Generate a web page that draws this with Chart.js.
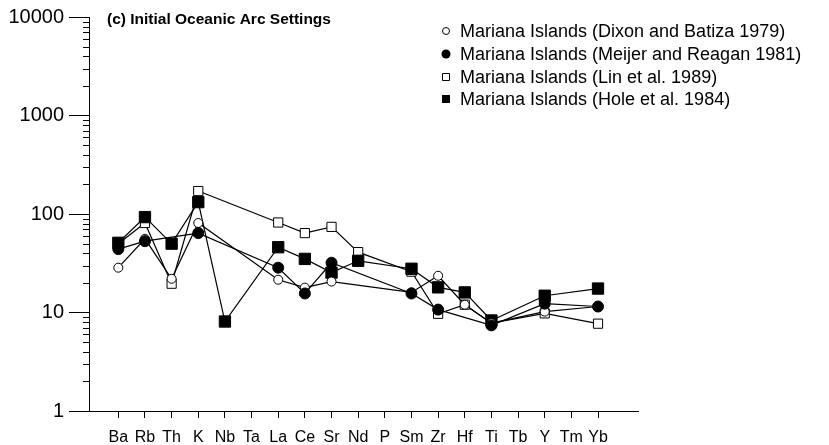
<!DOCTYPE html>
<html>
<head>
<script src="https://cdn.jsdelivr.net/npm/chart.js"></script>
<style>
  body { margin: 0; background: #fff; }
  #wrap { width: 829px; height: 445px; }
</style>
</head>
<body>
<div id="wrap"><canvas id="myChart" width="829" height="445"></canvas></div>
<script>
    // element order on the x axis
    const elements = ['Ba','Rb','Th','K','Nb','Ta','La','Ce','Sr','Nd','P','Sm','Zr','Hf','Ti','Tb','Y','Tm','Yb'];
    const yTicks = [1, 10, 100, 1000, 10000];

    // values (null = not reported)
    const dixon  = [28.5, 56, 22, 81, null, null, 21.5, 17.9, 20.6, null, null, 16, 23.6, 12, 7.8, null, 10.2, null, 11.5];
    const meijer = [44, 53, null, 64, null, null, 28.5, 15.6, 32, null, null, 15.6, 10.7, null, 7.4, null, 12.3, null, 11.5];
    const lin    = [50, 81, 19.6, 171, null, null, 82, 64, 74, 41, null, 26, 9.7, 12, 7.8, null, 9.8, null, 7.7];
    const hole   = [51, 93, 50, 132, 8.1, null, 46, 35, 25.4, 33.5, null, 27.8, 18, 16, 8.3, null, 14.8, null, 17.5];

    const seriesNames = [
        'Mariana Islands (Dixon and Batiza 1979)',
        'Mariana Islands (Meijer and Reagan 1981)',
        'Mariana Islands (Lin et al. 1989)',
        'Mariana Islands (Hole et al. 1984)'
    ];

    const toPts = arr => arr.map((v, i) => ({x: i, y: v}));
    const FONT = "'Liberation Sans', Arial, Helvetica, sans-serif";

    Chart.defaults.font.family = FONT;
    Chart.defaults.color = '#000';

    // minor log ticks, title and the legend drawn inside the plot
    const extras = {
        id: 'extras',
        afterDraw(chart) {
            const c = chart.ctx;
            const ys = chart.scales.y;
            c.save();
            c.strokeStyle = '#000';
            c.lineWidth = 1;
            for (let d = 1; d < 10000; d *= 10) {
                for (let m = 2; m <= 9; m++) {
                    const py = Math.round(ys.getPixelForValue(d * m)) + 0.5;
                    c.beginPath();
                    c.moveTo(ys.right - 6, py);
                    c.lineTo(ys.right, py);
                    c.stroke();
                }
            }
            // title
            c.fillStyle = '#000';
            c.font = 'bold 15.5px ' + FONT;
            c.textBaseline = 'middle';
            c.fillText('(c) Initial Oceanic Arc Settings', 107, 20);

            // legend
            c.font = '18px ' + FONT;
            const rows = [31, 54, 77, 99];
            const mx = 446;
            rows.forEach((ry, i) => {
                c.lineWidth = 1;
                c.beginPath();
                if (i === 0) {
                    c.arc(mx, ry, 3.5, 0, Math.PI * 2);
                    c.fillStyle = '#fff'; c.fill(); c.stroke();
                } else if (i === 1) {
                    c.arc(mx, ry, 4.5, 0, Math.PI * 2);
                    c.fillStyle = '#000'; c.fill();
                } else if (i === 2) {
                    c.rect(mx - 3.5, ry - 3.5, 7, 7);
                    c.fillStyle = '#fff'; c.fill(); c.stroke();
                } else {
                    c.rect(mx - 4, ry - 4, 8, 8);
                    c.fillStyle = '#000'; c.fill();
                }
                c.fillStyle = '#000';
                c.fillText(seriesNames[i], 460, ry + 1);
            });
            c.restore();
        }
    };

    const ctx = document.getElementById('myChart');
    const myChart = new Chart(ctx, {
        type: 'line',
        data: {
            datasets: [
            {
                label: seriesNames[0],
                data: toPts(dixon),
                borderColor: '#000', borderWidth: 1.2,
                pointStyle: 'circle', pointRadius: 4.5,
                pointBackgroundColor: '#fff', pointBorderColor: '#000', pointBorderWidth: 1,
                spanGaps: true, order: 1
            },
            {
                label: seriesNames[1],
                data: toPts(meijer),
                borderColor: '#000', borderWidth: 1.2,
                pointStyle: 'circle', pointRadius: 5.5,
                pointBackgroundColor: '#000', pointBorderColor: '#000', pointBorderWidth: 1,
                spanGaps: true, order: 0
            },
            {
                label: seriesNames[2],
                data: toPts(lin),
                borderColor: '#000', borderWidth: 1.2,
                pointStyle: 'rect', pointRadius: 6.5,
                pointBackgroundColor: '#fff', pointBorderColor: '#000', pointBorderWidth: 1,
                spanGaps: true, order: 3
            },
            {
                label: seriesNames[3],
                data: toPts(hole),
                borderColor: '#000', borderWidth: 1.2,
                pointStyle: 'rect', pointRadius: 8,
                pointBackgroundColor: '#000', pointBorderColor: '#000', pointBorderWidth: 1,
                spanGaps: true, order: 2
            }]
        },
        options: {
            responsive: false,
            animation: false,
            events: [],
            layout: { padding: { top: 15, right: 191, left: 0, bottom: 0 } },
            plugins: { legend: { display: false }, tooltip: { enabled: false } },
            scales: {
                x: {
                    type: 'linear',
                    min: -1.1, max: 19.5,
                    afterBuildTicks: s => { s.ticks = elements.map((e, i) => ({value: i})); },
                    afterFit: s => { s.height = 34; },
                    ticks: {
                        autoSkip: false, maxRotation: 0, padding: 10,
                        font: { size: 16 },
                        callback: v => elements[v]
                    },
                    grid: { drawOnChartArea: false, drawTicks: true, tickLength: 7, color: '#000' },
                    border: { color: '#000', width: 1 }
                },
                y: {
                    type: 'logarithmic',
                    min: 1, max: 10000,
                    afterBuildTicks: s => { s.ticks = yTicks.map(v => ({value: v})); },
                    afterFit: s => { s.width = 89; },
                    ticks: {
                        padding: 5,
                        font: { size: 20 },
                        callback: v => String(v)
                    },
                    grid: { drawOnChartArea: false, drawTicks: true, tickLength: 20, color: '#000' },
                    border: { color: '#000', width: 1 }
                }
            }
        },
        plugins: [extras]
    });
</script>
</body>
</html>
